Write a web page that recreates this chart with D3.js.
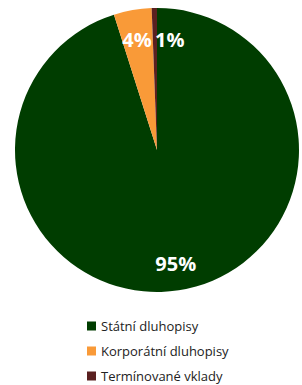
<!DOCTYPE html>
<html><head><meta charset="utf-8">
<script src="https://cdn.jsdelivr.net/npm/d3@7"></script>
<style>body{margin:0;background:#fff}svg{display:block}</style>
</head><body>
<script>
const categories = ["Státní dluhopisy", "Korporátní dluhopisy", "Termínované vklady"];
const values = [95.1, 4.3, 0.6];
const labels = ["95%", "4%", "1%"];
const colors = ["#003d00", "#f99a38", "#5a2020"];

const W = 302, H = 385, cx = 157, cy = 150, R = 142;
const svg = d3.select("body").append("svg").attr("width", W).attr("height", H);
const g = svg.append("g").attr("transform", `translate(${cx},${cy})`);
const pie = d3.pie().sort(null).value(d => d)(values);
const arc = d3.arc().innerRadius(0).outerRadius(R);
g.selectAll("path").data(pie).enter().append("path")
  .attr("d", arc).attr("fill", (d, i) => colors[i]);

const labelArc = d3.arc().innerRadius(116).outerRadius(116);
const nudge = [[1, -1], [0, 4], [15, 5]];
g.selectAll("text").data(pie).enter().append("text")
  .attr("x", (d, i) => labelArc.centroid(d)[0] + nudge[i][0])
  .attr("y", (d, i) => labelArc.centroid(d)[1] + nudge[i][1])
  .attr("text-anchor", "middle").attr("dominant-baseline", "central")
  .attr("fill", "#fff").attr("font-family", "Open Sans, sans-serif")
  .attr("font-weight", "bold").attr("font-size", 20)
  .text((d, i) => labels[i]);

const leg = svg.append("g").attr("transform", "translate(87,326)");
const rows = leg.selectAll("g").data(categories).enter().append("g")
  .attr("transform", (d, i) => `translate(0,${i * 25})`);
rows.append("rect").attr("x", 0).attr("y", -4.5).attr("width", 9).attr("height", 9)
  .attr("fill", (d, i) => colors[i]);
rows.append("text").attr("x", 14).attr("y", 0).attr("dominant-baseline", "central")
  .attr("font-family", "Open Sans, sans-serif").attr("font-size", 13).attr("fill", "#222")
  .text(d => d);
</script>
</body></html>
